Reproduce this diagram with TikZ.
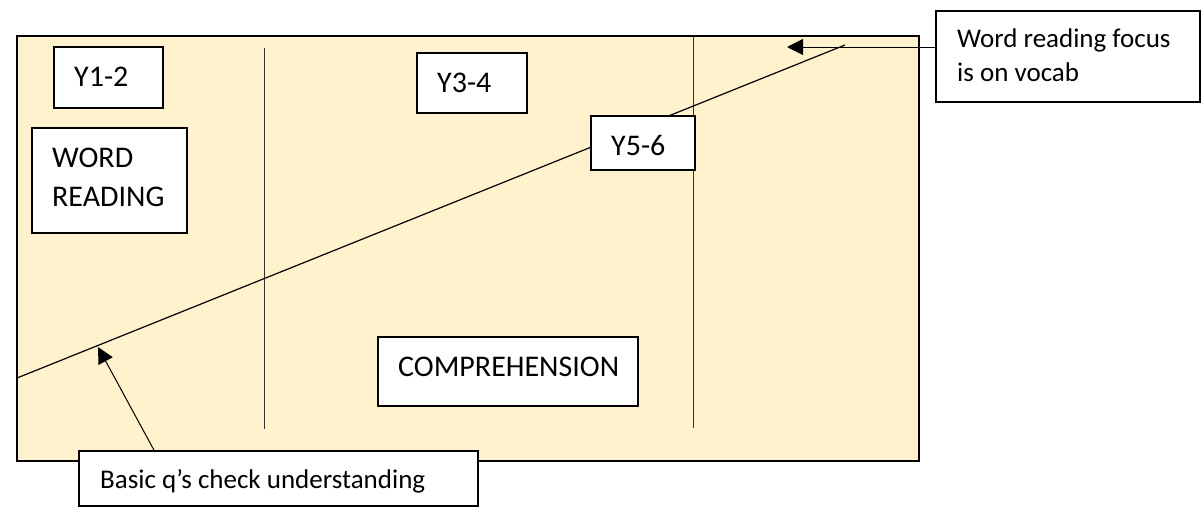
\documentclass[tikz,border=0pt]{standalone}
\usepackage{fontspec}
\setmainfont{Carlito}
\usetikzlibrary{arrows.meta}
\definecolor{peach}{HTML}{FFF2CC}
\begin{document}
\begin{tikzpicture}[x=1pt,y=-1pt,
  frame/.style={draw=black,line width=2pt,fill=peach},
  box/.style={draw=black,line width=2.2pt,fill=white,rectangle,inner sep=0pt,anchor=north west},
  lbl/.style={anchor=base west,inner sep=0pt,font=\fontsize{30}{34}\selectfont},
  small/.style={font=\fontsize{27}{31}\selectfont},
  divider/.style={draw=black!80,line width=1pt},
  slope/.style={draw=black,line width=1.2pt},
  pointer/.style={draw=black,line width=1pt,-{Triangle[length=16pt,width=16pt]}}]
\useasboundingbox (0,0) rectangle (1201,507);
% main panel
\node[frame,rectangle,inner sep=0pt,anchor=north west,minimum width=902pt,minimum height=425pt] (panel) at (16,35) {};
% dividers
\coordinate (v1t) at (264,48); \coordinate (v1b) at (264,429);
\coordinate (v2t) at (693,37); \coordinate (v2b) at (693,428);
\draw[divider] (v1t) -- (v1b);
\draw[divider] (v2t) -- (v2b);
% diagonal
\coordinate (dA) at (17,378);
\coordinate (dB) at (845,45);
\draw[slope] (dA) -- (dB);
% boxes
\node[box,minimum width=109pt,minimum height=61pt] (y12) at (53,46) {};
\node[lbl] (y12t) at (74,86) {Y1-2};
\node[box,minimum width=155pt,minimum height=105pt] (word) at (31,127) {};
\node[lbl] (wordt1) at (52,167) {WORD};
\node[lbl] (wordt2) at (52,206) {READING};
\node[box,minimum width=110pt,minimum height=60pt] (y34) at (416,52) {};
\node[lbl] (y34t) at (437,92) {Y3-4};
\node[box,minimum width=104pt,minimum height=54pt] (y56) at (590,115) {};
\node[lbl] (y56t) at (611,155) {Y5-6};
\node[box,minimum width=260pt,minimum height=69pt] (comp) at (377,336) {};
\node[lbl] (compt) at (398,376) {COMPREHENSION};
\node[box,minimum width=399pt,minimum height=55pt] (basic) at (78,450) {};
\node[lbl,small] (basict) at (100,488) {Basic q’s check understanding};
\node[box,minimum width=264pt,minimum height=91pt] (focus) at (935,10) {};
\node[lbl,small] (focust1) at (957,47) {Word reading focus};
\node[lbl,small] (focust2) at (957,81) {is on vocab};
% pointers
\coordinate (tipA) at (787,47);
\coordinate (tipB) at (98,347);
\coordinate (startB) at (155,452);
\draw[pointer] (focus.west |- tipA) -- (tipA);
\draw[pointer] (startB) -- (tipB);
\end{tikzpicture}
\end{document}
